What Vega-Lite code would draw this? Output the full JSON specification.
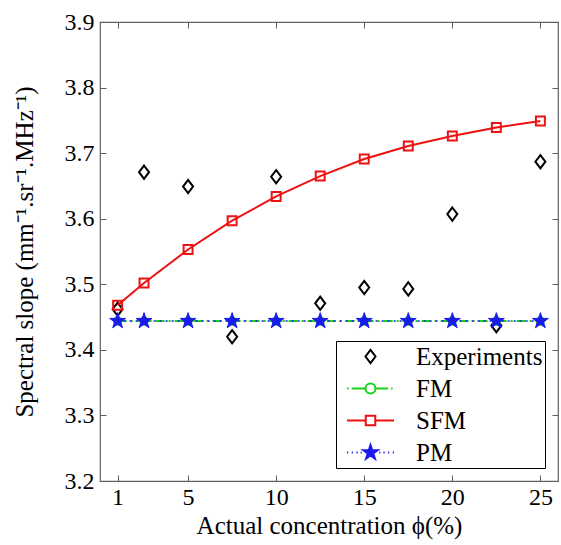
{
  "$schema": "https://vega.github.io/schema/vega-lite/v6.json",
  "autosize": {"type": "none"},
  "padding": {"left": 100, "top": 22, "right": 3, "bottom": 64},
  "width": 458,
  "height": 459,
  "background": "white",
  "view": {"stroke": "#606060", "strokeWidth": 1.2},
  "config": {
    "font": "Liberation Serif, serif",
    "axis": {
      "labelFont": "Liberation Serif, serif",
      "labelFontSize": 24,
      "labelColor": "black",
      "titleFont": "Liberation Serif, serif",
      "titleFontSize": 25,
      "titleFontWeight": "normal",
      "titleColor": "black",
      "grid": false,
      "domain": false,
      "tickColor": "#606060",
      "tickWidth": 1
    }
  },
  "data": {
    "values": [
      {"phi": 1, "slope": 3.462, "series": "Experiments"},
      {"phi": 2.5, "slope": 3.671, "series": "Experiments"},
      {"phi": 5, "slope": 3.649, "series": "Experiments"},
      {"phi": 7.5, "slope": 3.42, "series": "Experiments"},
      {"phi": 10, "slope": 3.664, "series": "Experiments"},
      {"phi": 12.5, "slope": 3.471, "series": "Experiments"},
      {"phi": 15, "slope": 3.495, "series": "Experiments"},
      {"phi": 17.5, "slope": 3.493, "series": "Experiments"},
      {"phi": 20, "slope": 3.607, "series": "Experiments"},
      {"phi": 22.5, "slope": 3.437, "series": "Experiments"},
      {"phi": 25, "slope": 3.687, "series": "Experiments"},
      {"phi": 1, "slope": 3.444, "series": "FM"},
      {"phi": 2.5, "slope": 3.444, "series": "FM"},
      {"phi": 5, "slope": 3.444, "series": "FM"},
      {"phi": 7.5, "slope": 3.444, "series": "FM"},
      {"phi": 10, "slope": 3.444, "series": "FM"},
      {"phi": 12.5, "slope": 3.444, "series": "FM"},
      {"phi": 15, "slope": 3.444, "series": "FM"},
      {"phi": 17.5, "slope": 3.444, "series": "FM"},
      {"phi": 20, "slope": 3.444, "series": "FM"},
      {"phi": 22.5, "slope": 3.444, "series": "FM"},
      {"phi": 25, "slope": 3.444, "series": "FM"},
      {"phi": 1, "slope": 3.468, "series": "SFM"},
      {"phi": 2.5, "slope": 3.502, "series": "SFM"},
      {"phi": 5, "slope": 3.553, "series": "SFM"},
      {"phi": 7.5, "slope": 3.597, "series": "SFM"},
      {"phi": 10, "slope": 3.634, "series": "SFM"},
      {"phi": 12.5, "slope": 3.665, "series": "SFM"},
      {"phi": 15, "slope": 3.691, "series": "SFM"},
      {"phi": 17.5, "slope": 3.711, "series": "SFM"},
      {"phi": 20, "slope": 3.726, "series": "SFM"},
      {"phi": 22.5, "slope": 3.739, "series": "SFM"},
      {"phi": 25, "slope": 3.749, "series": "SFM"},
      {"phi": 1, "slope": 3.444, "series": "PM"},
      {"phi": 2.5, "slope": 3.444, "series": "PM"},
      {"phi": 5, "slope": 3.444, "series": "PM"},
      {"phi": 7.5, "slope": 3.444, "series": "PM"},
      {"phi": 10, "slope": 3.444, "series": "PM"},
      {"phi": 12.5, "slope": 3.444, "series": "PM"},
      {"phi": 15, "slope": 3.444, "series": "PM"},
      {"phi": 17.5, "slope": 3.444, "series": "PM"},
      {"phi": 20, "slope": 3.444, "series": "PM"},
      {"phi": 22.5, "slope": 3.444, "series": "PM"},
      {"phi": 25, "slope": 3.444, "series": "PM"}
    ]
  },
  "layer": [
    {
      "transform": [{"filter": "datum.series === 'Experiments'"}],
      "mark": {"type": "point", "filled": true, "strokeWidth": 2, "opacity": 1, "size": 625},
      "encoding": {
        "x": {
          "field": "phi",
          "type": "quantitative",
          "scale": {"domain": [0, 26], "nice": false, "zero": false},
          "axis": {
            "orient": "bottom",
            "values": [1, 5, 10, 15, 20, 25],
            "ticks": false,
            "tickSize": 0,
            "title": "Actual concentration  ϕ(%)",
            "labelPadding": 4,
            "titlePadding": 4
          }
        },
        "y": {
          "field": "slope",
          "type": "quantitative",
          "scale": {"domain": [3.2, 3.9], "nice": false, "zero": false},
          "axis": {
            "orient": "left",
            "values": [3.2, 3.3, 3.4, 3.5, 3.6, 3.7, 3.8, 3.9],
            "format": ".1f",
            "ticks": false,
            "tickSize": 0,
            "title": "Spectral slope (mm⁻¹.sr⁻¹.MHz⁻¹)",
            "labelPadding": 6,
            "titlePadding": 27
          }
        },
        "shape": {
          "field": "series",
          "type": "nominal",
          "scale": {
            "domain": ["Experiments", "FM", "SFM", "PM"],
            "range": [
              "M0,-0.53L0.4,0L0,0.53L-0.4,0Z",
              "M-1.88,0L-1.75,0M-1.5,0L-0.4,0M-0.4,0A0.4,0.4,0,1,1,0.4,0A0.4,0.4,0,1,1,-0.4,0M0.4,0L1.41,0M1.64,0L1.77,0",
              "M-1.88,0L-0.38,0M-0.38,-0.38L0.38,-0.38L0.38,0.38L-0.38,0.38ZM0.38,0L1.88,0",
              "M-1.88,0L-1.79,0M-1.5,0L-1.41,0M-1.13,0L-1.03,0M-0.79,0L-0.7,0M0,-0.6L0.1347,-0.1854L0.5706,-0.1854L0.218,0.0708L0.3527,0.4854L0,0.2292L-0.3527,0.4854L-0.218,0.0708L-0.5706,-0.1854L-0.1347,-0.1854ZM0.7,0L0.79,0M1.03,0L1.13,0M1.41,0L1.5,0M1.79,0L1.88,0"
            ]
          },
          "legend": {
            "title": null,
            "orient": "bottom-right",
            "offset": 13,
            "padding": 2,
            "strokeColor": "black",
            "fillColor": "white",
            "labelFont": "Liberation Serif, serif",
            "labelFontSize": 25,
            "labelColor": "black",
            "labelOffset": 32,
            "symbolOffset": 19,
            "rowPadding": 5,
            "symbolSize": 625,
            "symbolStrokeWidth": 2
          }
        },
        "stroke": {
          "field": "series",
          "type": "nominal",
          "scale": {"domain": ["Experiments", "FM", "SFM", "PM"], "range": ["black", "#19d219", "#ee1111", "#1a1aee"]},
          "legend": {"title": null}
        },
        "fill": {
          "field": "series",
          "type": "nominal",
          "scale": {"domain": ["Experiments", "FM", "SFM", "PM"], "range": ["white", "white", "white", "#1a1aee"]},
          "legend": {"title": null}
        }
      }
    },
    {
      "transform": [{"filter": "datum.series === 'FM'"}],
      "mark": {"type": "line", "stroke": "#19d219", "strokeWidth": 2, "strokeDash": [9, 4, 2, 4]},
      "encoding": {
        "x": {"field": "phi", "type": "quantitative", "axis": null},
        "y": {"field": "slope", "type": "quantitative", "axis": null}
      }
    },
    {
      "transform": [{"filter": "datum.series === 'FM'"}],
      "mark": {"type": "point", "shape": "circle", "filled": false, "stroke": "#19d219", "strokeWidth": 2, "size": 55, "opacity": 1},
      "encoding": {
        "x": {"field": "phi", "type": "quantitative", "axis": null},
        "y": {"field": "slope", "type": "quantitative", "axis": null}
      }
    },
    {
      "transform": [{"filter": "datum.series === 'SFM'"}],
      "mark": {"type": "line", "stroke": "#ee1111", "strokeWidth": 2},
      "encoding": {
        "x": {"field": "phi", "type": "quantitative", "axis": null},
        "y": {"field": "slope", "type": "quantitative", "axis": null}
      }
    },
    {
      "transform": [{"filter": "datum.series === 'SFM'"}],
      "mark": {"type": "point", "shape": "square", "filled": false, "stroke": "#ee1111", "strokeWidth": 2, "size": 80, "opacity": 1},
      "encoding": {
        "x": {"field": "phi", "type": "quantitative", "axis": null},
        "y": {"field": "slope", "type": "quantitative", "axis": null}
      }
    },
    {
      "transform": [{"filter": "datum.series === 'PM'"}],
      "mark": {"type": "line", "stroke": "#1a1aee", "strokeWidth": 1.5, "strokeDash": [2, 4]},
      "encoding": {
        "x": {"field": "phi", "type": "quantitative", "axis": null},
        "y": {"field": "slope", "type": "quantitative", "axis": null}
      }
    },
    {
      "transform": [{"filter": "datum.series === 'PM'"}],
      "mark": {
        "type": "point",
        "shape": "M0,-1L0.2245,-0.309L0.9511,-0.309L0.3633,0.118L0.5878,0.809L0,0.382L-0.5878,0.809L-0.3633,0.118L-0.9511,-0.309L-0.2245,-0.309Z",
        "filled": true,
        "fill": "#1a1aee",
        "stroke": "#1a1aee",
        "strokeWidth": 1,
        "size": 280,
        "opacity": 1
      },
      "encoding": {
        "x": {"field": "phi", "type": "quantitative", "axis": null},
        "y": {"field": "slope", "type": "quantitative", "axis": null}
      }
    },
    {
      "mark": {"type": "point", "opacity": 0},
      "encoding": {
        "x": {"field": "phi", "type": "quantitative", "axis": {"orient": "bottom", "values": [1, 5, 10, 15, 20, 25], "labels": false, "title": null, "offset": -6, "tickSize": 6}},
        "y": {"field": "slope", "type": "quantitative", "axis": {"orient": "left", "values": [3.2, 3.3, 3.4, 3.5, 3.6, 3.7, 3.8, 3.9], "labels": false, "title": null, "offset": -6, "tickSize": 6}}
      }
    },
    {
      "mark": {"type": "point", "opacity": 0},
      "encoding": {
        "x": {"field": "phi", "type": "quantitative", "axis": {"orient": "top", "values": [1, 5, 10, 15, 20, 25], "labels": false, "title": null, "offset": -6, "tickSize": 6}},
        "y": {"field": "slope", "type": "quantitative", "axis": {"orient": "right", "values": [3.2, 3.3, 3.4, 3.5, 3.6, 3.7, 3.8, 3.9], "labels": false, "title": null, "offset": -6, "tickSize": 6}}
      }
    }
  ],
  "resolve": {"axis": {"x": "independent", "y": "independent"}}
}
